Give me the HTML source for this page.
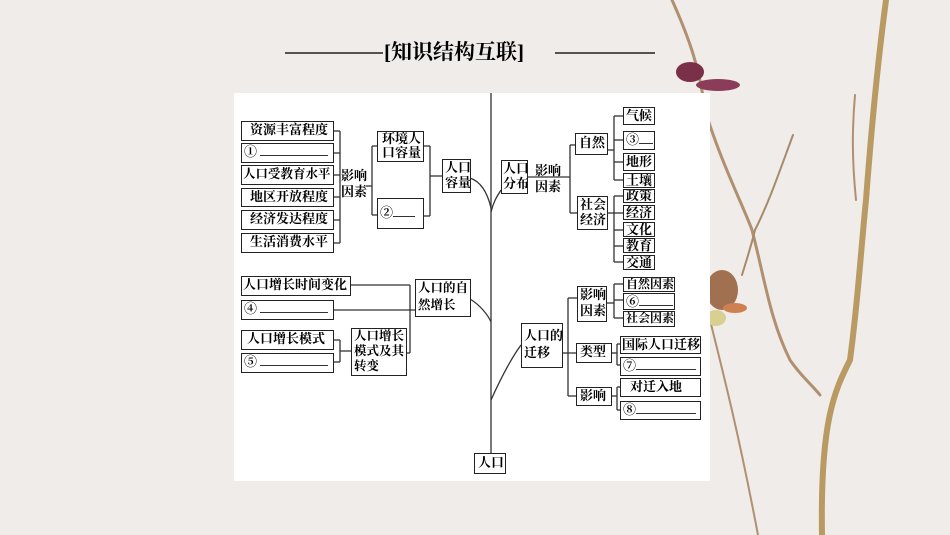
<!DOCTYPE html>
<html><head><meta charset="utf-8"><style>
html,body{margin:0;padding:0}
body{width:950px;height:535px;position:relative;overflow:hidden;background:#efece9;font-family:"Liberation Serif","Noto Serif CJK SC","Noto Sans CJK SC",serif;}
.b{position:absolute;border:1.5px solid #222;box-sizing:border-box;background:#fff;font-size:13px;line-height:16px;color:#000;padding-left:2px;white-space:nowrap;overflow:hidden;font-weight:bold}
.t{position:absolute;font-size:13px;line-height:16px;color:#000;white-space:nowrap;font-weight:bold}
.u{display:inline-block;border-bottom:1px solid #333;height:11px;vertical-align:baseline}
</style></head><body>
<svg style="position:absolute;left:0;top:0" width="950" height="535">
<g fill="none" stroke-linecap="round">
<path d="M886 0 C878 60 872 120 866 200 C860 260 858 300 850 360 C835 390 820 420 822 535" stroke="#b99a62" stroke-width="6"/>
<path d="M672 0 C690 40 700 70 705 110 C720 160 745 210 752 230 C765 280 770 320 790 360 C800 375 812 385 820 395" stroke="#b09070" stroke-width="3"/>
<path d="M793 135 C780 170 770 200 755 230 C750 250 745 265 742 275" stroke="#a88a6a" stroke-width="2"/>
<path d="M855 95 C852 130 852 160 856 200" stroke="#b09070" stroke-width="2"/>
<path d="M710 320 C725 380 740 440 758 535" stroke="#b09070" stroke-width="2"/>
</g>
<ellipse cx="690" cy="72" rx="14" ry="10" fill="#7a3048"/>
<ellipse cx="718" cy="85" rx="22" ry="6" fill="#8a3c58"/>
<ellipse cx="722" cy="290" rx="16" ry="20" fill="#a07050"/>
<ellipse cx="735" cy="308" rx="12" ry="5" fill="#d08050"/>
<ellipse cx="716" cy="318" rx="10" ry="8" fill="#d8d090"/>
<line x1="285" y1="53" x2="383" y2="53" stroke="#222" stroke-width="1.5"/>
<line x1="555" y1="53" x2="655" y2="53" stroke="#222" stroke-width="1.5"/>
<rect x="234" y="93" width="476" height="388" fill="#fff"/>
<g stroke="#333" stroke-width="1.3" fill="none">
<line x1="491" y1="93" x2="491" y2="453"/>
<line x1="334" y1="131" x2="340" y2="131"/><line x1="334" y1="153" x2="340" y2="153"/><line x1="334" y1="175" x2="340" y2="175"/><line x1="334" y1="197" x2="340" y2="197"/><line x1="334" y1="220" x2="340" y2="220"/><line x1="334" y1="243" x2="340" y2="243"/>
<line x1="340" y1="131" x2="340" y2="243"/>
<line x1="366" y1="186" x2="372" y2="186"/>
<line x1="372" y1="146" x2="372" y2="215"/><line x1="372" y1="146" x2="377" y2="146"/><line x1="372" y1="215" x2="377" y2="215"/>
<line x1="424" y1="146" x2="430" y2="146"/><line x1="424" y1="216" x2="430" y2="216"/><line x1="430" y1="146" x2="430" y2="216"/><line x1="430" y1="176" x2="442" y2="176"/>
<path d="M470 178 C482 182 488 195 491 208"/>
<line x1="527" y1="177" x2="570" y2="177"/>
<line x1="570" y1="145" x2="570" y2="213"/><line x1="570" y1="145" x2="575" y2="145"/><line x1="570" y1="213" x2="577" y2="213"/>
<line x1="608" y1="150" x2="614" y2="150"/><line x1="614" y1="116" x2="614" y2="180"/>
<line x1="614" y1="116" x2="623" y2="116"/><line x1="614" y1="140" x2="623" y2="140"/><line x1="614" y1="162" x2="623" y2="162"/><line x1="614" y1="180" x2="623" y2="180"/>
<line x1="608" y1="213" x2="614" y2="213"/><line x1="614" y1="196" x2="614" y2="262"/>
<line x1="614" y1="196" x2="623" y2="196"/><line x1="614" y1="213" x2="623" y2="213"/><line x1="614" y1="230" x2="623" y2="230"/><line x1="614" y1="246" x2="623" y2="246"/><line x1="614" y1="262" x2="623" y2="262"/>
<path d="M491 212 C494 200 498 195 501 190"/>
<line x1="351" y1="285" x2="410" y2="285"/><line x1="410" y1="285" x2="410" y2="353"/><line x1="406" y1="353" x2="410" y2="353"/>
<line x1="334" y1="310" x2="415" y2="310"/>
<line x1="334" y1="340" x2="340" y2="340"/><line x1="334" y1="362" x2="340" y2="362"/><line x1="340" y1="340" x2="340" y2="362"/><line x1="340" y1="351" x2="351" y2="351"/>
<path d="M470 299 C480 305 488 315 491 322"/>
<path d="M491 400 C500 380 510 360 521 345"/>
<line x1="562" y1="353" x2="568" y2="353"/><line x1="568" y1="298" x2="568" y2="396"/>
<line x1="568" y1="298" x2="577" y2="298"/><line x1="568" y1="353" x2="576" y2="353"/><line x1="568" y1="396" x2="576" y2="396"/>
<line x1="606" y1="303" x2="614" y2="303"/><line x1="614" y1="284" x2="614" y2="318"/>
<line x1="614" y1="284" x2="623" y2="284"/><line x1="614" y1="300" x2="623" y2="300"/><line x1="614" y1="318" x2="623" y2="318"/>
<line x1="612" y1="353" x2="617" y2="353"/><line x1="617" y1="344" x2="617" y2="365"/><line x1="617" y1="344" x2="620" y2="344"/><line x1="617" y1="365" x2="620" y2="365"/>
<line x1="612" y1="396" x2="617" y2="396"/><line x1="617" y1="387" x2="617" y2="410"/><line x1="617" y1="387" x2="620" y2="387"/><line x1="617" y1="410" x2="620" y2="410"/>
</g>
</svg>
<div class="t" style="left:384px;top:40px;font-size:21px;line-height:25px">[知识结构互联]</div>

<div class="b" style="left:241px;top:121px;width:93px;height:20px;padding-left:8px">资源丰富程度</div>
<div class="b" style="left:241px;top:143px;width:93px;height:20px">① <span class="u" style="width:68px"></span></div>
<div class="b" style="left:241px;top:165px;width:93px;height:20px;padding-left:1px;font-size:12.5px">人口受教育水平</div>
<div class="b" style="left:241px;top:188px;width:93px;height:19px;padding-left:8px">地区开放程度</div>
<div class="b" style="left:241px;top:210px;width:93px;height:20px;padding-left:8px">经济发达程度</div>
<div class="b" style="left:241px;top:233px;width:93px;height:20px;padding-left:8px">生活消费水平</div>
<div class="t" style="left:341px;top:168px">影响<br>因素</div>
<div class="b" style="left:377px;top:131px;width:47px;height:31px;line-height:14px;padding-left:4px">环境人<br>口容量</div>
<div class="b" style="left:377px;top:198px;width:47px;height:31px;padding-top:6px">②<span class="u" style="width:22px"></span></div>
<div class="b" style="left:442px;top:159px;width:29px;height:34px;line-height:15px">人口<br>容量</div>

<div class="b" style="left:501px;top:160px;width:27px;height:34px;line-height:15px;padding-left:1px">人口<br>分布</div>
<div class="t" style="left:535px;top:163px">影响<br>因素</div>
<div class="b" style="left:575px;top:133px;width:33px;height:22px;padding-left:3px;padding-top:1px">自然</div>
<div class="b" style="left:577px;top:196px;width:31px;height:34px;line-height:15px;padding-left:2px">社会<br>经济</div>
<div class="b" style="left:623px;top:107px;width:32px;height:18px;line-height:15px">气候</div>
<div class="b" style="left:623px;top:131px;width:32px;height:19px">③<span class="u" style="width:14px"></span></div>
<div class="b" style="left:623px;top:153px;width:32px;height:18px;line-height:15px">地形</div>
<div class="b" style="left:623px;top:173px;width:32px;height:15px;line-height:13px">土壤</div>
<div class="b" style="left:623px;top:189px;width:32px;height:14px;line-height:12px">政策</div>
<div class="b" style="left:623px;top:205px;width:32px;height:15px;line-height:13px">经济</div>
<div class="b" style="left:623px;top:222px;width:32px;height:15px;line-height:13px">文化</div>
<div class="b" style="left:623px;top:238px;width:32px;height:15px;line-height:13px">教育</div>
<div class="b" style="left:623px;top:255px;width:32px;height:15px;line-height:13px">交通</div>

<div class="b" style="left:241px;top:276px;width:110px;height:20px;padding-left:1px">人口增长时间变化</div>
<div class="b" style="left:241px;top:300px;width:93px;height:20px">④ <span class="u" style="width:68px"></span></div>
<div class="b" style="left:241px;top:330px;width:93px;height:20px;padding-left:5px">人口增长模式</div>
<div class="b" style="left:241px;top:353px;width:93px;height:20px">⑤ <span class="u" style="width:68px"></span></div>
<div class="b" style="left:351px;top:328px;width:56px;height:48px;line-height:15px;font-size:12.5px">人口增长<br>模式及其<br>转变</div>
<div class="b" style="left:415px;top:279px;width:56px;height:38px;line-height:17px;font-size:12.5px">人口的自<br>然增长</div>

<div class="b" style="left:521px;top:323px;width:42px;height:45px;line-height:17px;padding-top:3px">人口的<br>迁移</div>
<div class="b" style="left:577px;top:286px;width:30px;height:36px;line-height:16px">影响<br>因素</div>
<div class="b" style="left:576px;top:343px;width:36px;height:20px;padding-left:3px">类型</div>
<div class="b" style="left:576px;top:387px;width:36px;height:19px;padding-left:3px">影响</div>
<div class="b" style="left:623px;top:277px;width:52px;height:15px;line-height:13px;font-size:12px">自然因素</div>
<div class="b" style="left:623px;top:293px;width:52px;height:17px;line-height:14px">⑥<span class="u" style="width:34px"></span></div>
<div class="b" style="left:623px;top:311px;width:52px;height:16px;line-height:13px;font-size:12px">社会因素</div>
<div class="b" style="left:620px;top:336px;width:81px;height:18px;line-height:15px;padding-left:1px">国际人口迁移</div>
<div class="b" style="left:620px;top:357px;width:81px;height:19px">⑦<span class="u" style="width:60px"></span></div>
<div class="b" style="left:620px;top:378px;width:81px;height:19px;padding-left:9px">对迁入地</div>
<div class="b" style="left:620px;top:401px;width:81px;height:19px">⑧<span class="u" style="width:60px"></span></div>

<div class="b" style="left:474px;top:453px;width:32px;height:21px;padding-left:3px;padding-top:1px">人口</div>
</body></html>
